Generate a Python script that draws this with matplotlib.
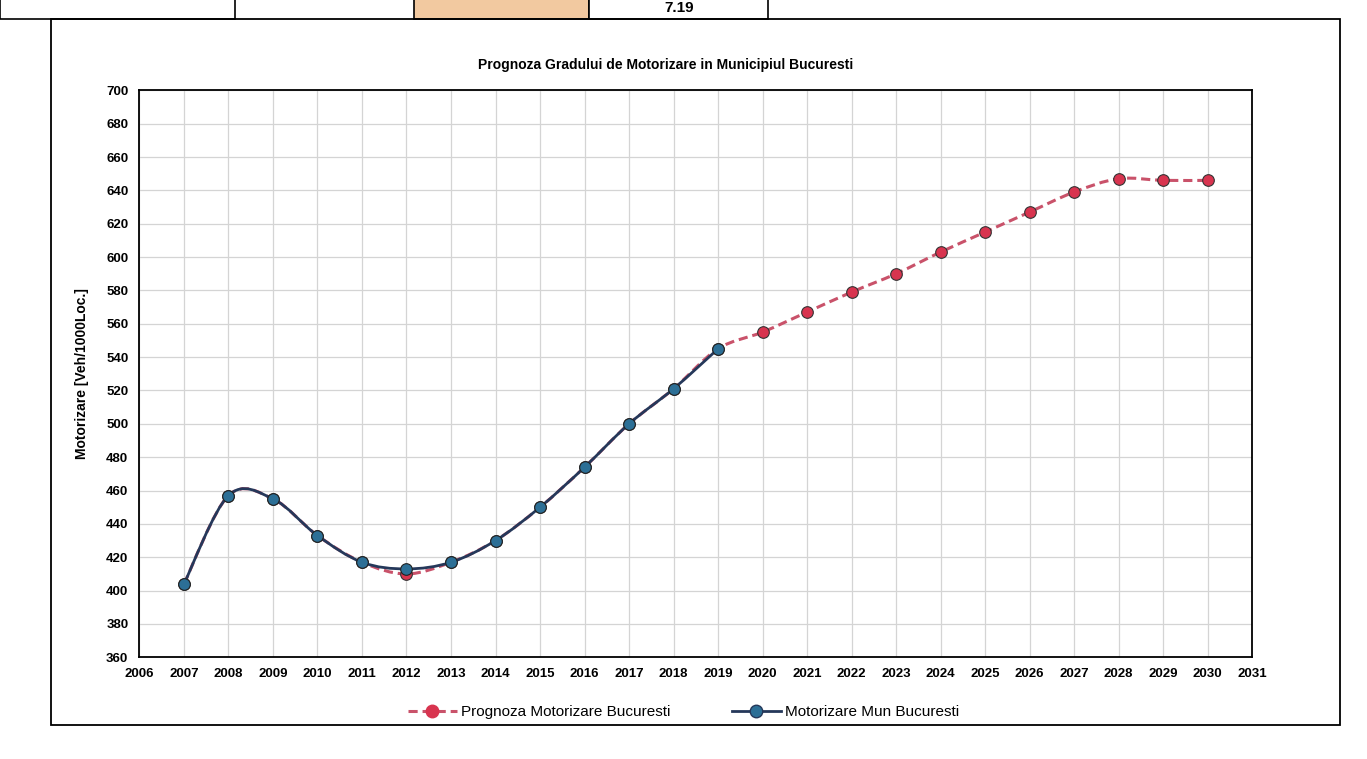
import numpy as np
import matplotlib
matplotlib.use("Agg")
import matplotlib.pyplot as plt
from matplotlib.path import Path
from matplotlib.patches import PathPatch, Rectangle
from matplotlib.lines import Line2D

plt.rcParams["font.family"] = ["Liberation Sans", "DejaVu Sans"]

# Motorizare (vehicule / 1000 locuitori)
years_hist = [2007, 2008, 2009, 2010, 2011, 2012, 2013, 2014, 2015, 2016, 2017, 2018, 2019]
motor_hist = [404, 457, 455, 433, 417, 413, 417, 430, 450, 474, 500, 521, 545]

years_prog = [2007, 2008, 2009, 2010, 2011, 2012, 2013, 2014, 2015, 2016, 2017, 2018,
              2019, 2020, 2021, 2022, 2023, 2024, 2025, 2026, 2027, 2028, 2029, 2030]
motor_prog = [404, 457, 455, 433, 417, 410, 417, 430, 450, 474, 500, 521,
              545, 555, 567, 579, 590, 603, 615, 627, 639, 647, 646, 646]

x_ticks = list(range(2006, 2032))
y_ticks = list(range(360, 701, 20))

RED = "#d8344f"
RED_LINE = "#c9526a"
BLUE = "#2c6f96"
NAVY = "#25385a"


def smooth_path(xs, ys):
    # Catmull-Rom style bezier through the points (Excel "smoothed line")
    x = np.asarray(xs, float)
    y = np.asarray(ys, float)
    n = len(x)
    verts = [(x[0], y[0])]
    codes = [Path.MOVETO]
    for i in range(n - 1):
        a = max(i - 1, 0)
        b = min(i + 2, n - 1)
        c1 = (x[i] + (x[i + 1] - x[a]) / 6, y[i] + (y[i + 1] - y[a]) / 6)
        c2 = (x[i + 1] - (x[b] - x[i]) / 6, y[i + 1] - (y[b] - y[i]) / 6)
        verts += [c1, c2, (x[i + 1], y[i + 1])]
        codes += [Path.CURVE4] * 3
    return Path(verts, codes)


fig = plt.figure(figsize=(13.67, 7.59), dpi=100)
fig.patch.set_facecolor("white")

# table fragment above the chart
for x0, w, face in [(0.0, 0.172, "white"), (0.303, 0.128, "#f2c9a0"), (0.431, 0.131, "white")]:
    fig.add_artist(Rectangle((x0, 0.975), w, 0.04, transform=fig.transFigure,
                             facecolor=face, edgecolor="black", lw=1.2))
fig.text(0.497, 0.99, "7.19", ha="center", va="center", fontsize=11, fontweight="bold")

# chart frame
fig.add_artist(Rectangle((0.037, 0.045), 0.943, 0.93, transform=fig.transFigure,
                         facecolor="none", edgecolor="black", lw=1.3))

ax = fig.add_axes([0.102, 0.134, 0.814, 0.747])
ax.set_xlim(2006, 2031)
ax.set_ylim(360, 700)
ax.set_xticks(x_ticks)
ax.set_yticks(y_ticks)
ax.set_xticklabels([str(v) for v in x_ticks], fontsize=9.5, fontweight="bold")
ax.set_yticklabels([str(v) for v in y_ticks], fontsize=9.5, fontweight="bold")
ax.tick_params(length=0, pad=8)
ax.grid(True, color="#d4d4d4", lw=0.9)
ax.set_axisbelow(True)
for s in ax.spines.values():
    s.set_color("black")
    s.set_linewidth(1.3)

# forecast series (underneath)
ax.add_patch(PathPatch(smooth_path(years_prog, motor_prog), fill=False, edgecolor=RED_LINE,
                       lw=2.2, linestyle=(0, (3, 1.6)), zorder=3))
ax.scatter(years_prog, motor_prog, s=70, color=RED, edgecolor="#333333", lw=0.8, zorder=4)

# historical series
ax.add_patch(PathPatch(smooth_path(years_hist, motor_hist), fill=False, edgecolor=NAVY,
                       lw=2.0, zorder=5))
ax.scatter(years_hist, motor_hist, s=70, color=BLUE, edgecolor="#222222", lw=0.8, zorder=6)

ax.set_ylabel("Motorizare [Veh/1000Loc.]", fontsize=10, fontweight="bold", labelpad=12)
fig.text(0.487, 0.915, "Prognoza Gradului de Motorizare in Municipiul Bucuresti",
         ha="center", va="center", fontsize=10, fontweight="bold")

handles = [
    Line2D([], [], color=RED_LINE, lw=2.2, linestyle=(0, (3, 1.6)), marker="o",
           markersize=9, markerfacecolor=RED, markeredgecolor=RED),
    Line2D([], [], color=NAVY, lw=2.0, marker="o", markersize=9,
           markerfacecolor=BLUE, markeredgecolor=NAVY),
]
fig.legend(handles, ["Prognoza Motorizare Bucuresti", "Motorizare Mun Bucuresti"],
           loc="center", bbox_to_anchor=(0.5, 0.062), ncol=2, frameon=False,
           fontsize=11, columnspacing=4, handlelength=3.2, handletextpad=0.3)

fig.savefig("out.png", dpi=100, facecolor="white")
